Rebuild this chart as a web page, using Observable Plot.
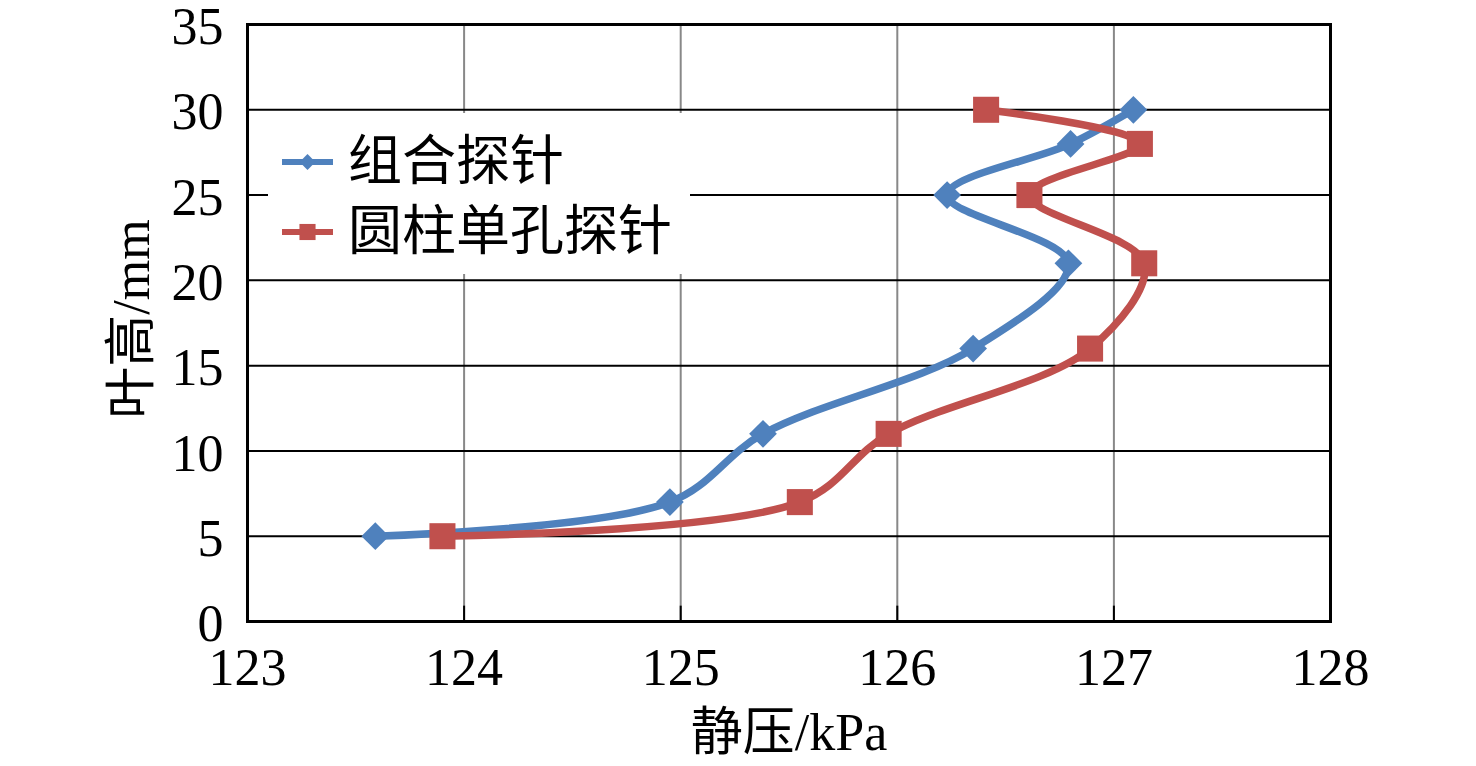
<!DOCTYPE html>
<html>
<head>
<meta charset="utf-8">
<script src="https://cdn.jsdelivr.net/npm/d3@7"></script>
<script src="https://cdn.jsdelivr.net/npm/@observablehq/plot@0.6"></script>
<style>
  html, body { margin: 0; padding: 0; background: #fff; }
  #wrap { position: relative; width: 1476px; height: 766px; overflow: hidden; }
  #legend { position: absolute; left: 0; top: 0; }
</style>
</head>
<body>
<div id="wrap"></div>
<script>
// ---- data ----
const heights = [5, 7, 11, 16, 21, 25, 28, 30];               // 叶高/mm
const comboProbe = [123.59, 124.95, 125.38, 126.35, 126.79, 126.23, 126.80, 127.09]; // 组合探针
const cylProbe = [123.90, 125.55, 125.96, 126.89, 127.14, 126.61, 127.12, 126.41];   // 圆柱单孔探针
const seriesNames = ["组合探针", "圆柱单孔探针"];
const seriesColors = ["#4F81BD", "#C0504D"];
const xTicks = [123, 124, 125, 126, 127, 128];
const yTicks = [0, 5, 10, 15, 20, 25, 30, 35];
const xTitle = "静压/kPa";
const yTitle = "叶高/mm";

const font = "'Liberation Serif', 'Noto Sans CJK SC', serif";

const rows = [];
heights.forEach((h, i) => rows.push({series: seriesNames[0], x: comboProbe[i], y: h}));
heights.forEach((h, i) => rows.push({series: seriesNames[1], x: cylProbe[i], y: h}));
const s0 = rows.filter(d => d.series === seriesNames[0]);
const s1 = rows.filter(d => d.series === seriesNames[1]);

const chart = Plot.plot({
  width: 1476,
  height: 766,
  marginLeft: 247,
  marginRight: 146,
  marginTop: 24,
  marginBottom: 145,
  style: {fontFamily: font, fontSize: "52px", color: "#000", background: "#fff", overflow: "visible"},
  x: {domain: [123, 128]},
  y: {domain: [0, 35]},
  marks: [
    Plot.gridX(xTicks, {stroke: "#888", strokeOpacity: 1, strokeWidth: 2}),
    Plot.gridY(yTicks, {stroke: "#000", strokeOpacity: 1, strokeWidth: 2}),
    Plot.ruleX(xTicks, {y1: 0, y2: 0.9, stroke: "#000", strokeWidth: 2}),
    Plot.frame({stroke: "#000", strokeWidth: 3}),
    Plot.axisX(xTicks, {tickSize: 0, tickPadding: 27, fontSize: 52, tickFormat: d => String(d), label: null}),
    Plot.axisY(yTicks, {tickSize: 0, tickPadding: 24, dy: 3, fontSize: 52, tickFormat: d => String(d), label: null}),
    Plot.text([xTitle], {frameAnchor: "bottom", lineAnchor: "middle", textAnchor: "middle", dy: 112, fontSize: 52, text: d => d}),
    Plot.text([yTitle], {frameAnchor: "left", lineAnchor: "middle", textAnchor: "middle", dx: -115, dy: -4, rotate: -90, fontSize: 52, text: d => d}),
    Plot.line(s0, {x: "x", y: "y", stroke: seriesColors[0], strokeWidth: 7.5, curve: "catmull-rom"}),
    Plot.line(s1, {x: "x", y: "y", stroke: seriesColors[1], strokeWidth: 7.5, curve: "catmull-rom"}),
    Plot.dot(s0, {x: "x", y: "y", symbol: "diamond2", r: 12.5, fill: seriesColors[0], stroke: "none"}),
    Plot.dot(s1, {x: "x", y: "y", symbol: "square", r: 14.7, fill: seriesColors[1], stroke: "none"})
  ]
});

const wrap = document.getElementById("wrap");
wrap.appendChild(chart);

// ---- legend (inside plot area, top-left) ----
const ns = "http://www.w3.org/2000/svg";
const lg = document.createElementNS(ns, "svg");
lg.setAttribute("id", "legend");
lg.setAttribute("width", 1476);
lg.setAttribute("height", 766);
lg.style.fontFamily = font;
const bg = document.createElementNS(ns, "rect");
bg.setAttribute("x", 268); bg.setAttribute("y", 113);
bg.setAttribute("width", 422); bg.setAttribute("height", 161);
bg.setAttribute("fill", "#fff");
lg.appendChild(bg);
const legendY = [162, 232];
seriesNames.forEach((name, i) => {
  const cy = legendY[i];
  const ln = document.createElementNS(ns, "line");
  ln.setAttribute("x1", 282); ln.setAttribute("x2", 333);
  ln.setAttribute("y1", cy); ln.setAttribute("y2", cy);
  ln.setAttribute("stroke", seriesColors[i]); ln.setAttribute("stroke-width", 6);
  lg.appendChild(ln);
  const m = document.createElementNS(ns, "path");
  const sym = i === 0 ? d3.symbol(d3.symbolDiamond2, 160) : d3.symbol(d3.symbolSquare, 260);
  m.setAttribute("d", sym());
  m.setAttribute("transform", `translate(307.5,${cy})`);
  m.setAttribute("fill", seriesColors[i]);
  lg.appendChild(m);
  const t = document.createElementNS(ns, "text");
  t.setAttribute("x", 348); t.setAttribute("y", cy);
  t.setAttribute("dominant-baseline", "central");
  t.setAttribute("font-size", 54);
  t.setAttribute("fill", "#000");
  t.textContent = name;
  lg.appendChild(t);
});
wrap.appendChild(lg);
</script>
</body>
</html>
